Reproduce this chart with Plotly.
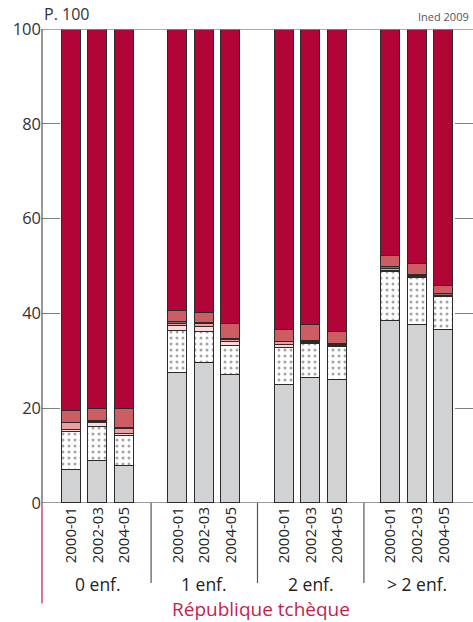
import plotly.graph_objects as go

groups = ["0 enf.", "1 enf.", "2 enf.", "> 2 enf."]
periods = ["2000-01", "2002-03", "2004-05"]

# layer values per bar (12 bars: group-major order)
gris = [7.0, 8.9, 7.8, 27.4, 29.5, 27.0, 24.9, 26.3, 25.9, 38.4, 37.6, 36.6]
pointille = [7.9, 7.2, 6.4, 8.9, 6.5, 6.2, 7.9, 7.2, 7.1, 10.3, 9.9, 6.8]
rose_pale = [0.5, 0.7, 0.4, 1.0, 1.2, 0.8, 0.5, 0.2, 0.2, 0.3, 0.2, 0.2]
saumon = [1.5, 0.3, 1.1, 0.5, 0.5, 0.4, 0.6, 0.2, 0.1, 0.4, 0.2, 0.1]
gris_fonce = [0.0, 0.3, 0.2, 0.4, 0.3, 0.3, 0.1, 0.3, 0.2, 0.3, 0.3, 0.3]
rouge = [2.5, 2.4, 4.0, 2.4, 2.0, 3.0, 2.5, 3.4, 2.6, 2.5, 2.2, 1.8]
cramoisi = [80.6, 80.2, 80.0, 59.4, 60.0, 62.3, 63.5, 62.4, 63.9, 47.8, 49.6, 54.2]

yticks = [0, 20, 40, 60, 80, 100]

xpos = [4 * g + b for g in range(len(groups)) for b in range(len(periods))]
xlabels = [p for g in groups for p in periods]

FONT = "Open Sans"
CRIMSON = "#b10538"
EDGE = dict(color="#2b2b2b", width=1)

layers = [
    (gris, dict(color="#d1d2d4", line=EDGE)),
    (pointille, dict(color="white", line=EDGE,
                     pattern=dict(shape=".", fgcolor="#4a4a4a", bgcolor="white",
                                  size=6, solidity=0.2))),
    (rose_pale, dict(color="#fbd9d6", line=EDGE)),
    (saumon, dict(color="#e9a09f", line=EDGE)),
    (gris_fonce, dict(color="#707070", line=EDGE)),
    (rouge, dict(color="#cc5e63", line=EDGE)),
    (cramoisi, dict(color=CRIMSON, line=EDGE)),
]

fig = go.Figure()
for vals, mk in layers:
    fig.add_trace(go.Bar(x=xpos, y=vals, width=0.71, marker=mk,
                         showlegend=False, hoverinfo="skip"))

shapes = []
shapes.append(dict(type="line", xref="paper", yref="y", x0=0, x1=1, y0=100, y1=100,
                   line=dict(color="#8c8c8c", width=1.5), layer="above"))
shapes.append(dict(type="line", xref="paper", yref="y", x0=0, x1=0, y0=0, y1=100,
                   line=dict(color="#333333", width=1), layer="above"))
shapes.append(dict(type="line", xref="paper", yref="y", x0=0, x1=1, y0=0, y1=0,
                   line=dict(color="#333333", width=1), layer="above"))
shapes.append(dict(type="line", xref="paper", yref="paper", x0=0, x1=0, y0=0, y1=-0.212,
                   line=dict(color="#c41e4e", width=1.2)))
for g in range(1, len(groups)):
    shapes.append(dict(type="line", xref="x", yref="paper", x0=4 * g - 1, x1=4 * g - 1,
                       y0=0, y1=-0.169, line=dict(color="#555555", width=1.2)))

annotations = []
for g, name in enumerate(groups):
    annotations.append(dict(x=4 * g + 1, y=-0.170, xref="x", yref="paper", text=name,
                            showarrow=False, yanchor="middle", borderpad=0,
                            font=dict(family=FONT, size=17.5, color="#222222")))
annotations.append(dict(x=7.15, y=-0.224, xref="x", yref="paper", text="République tchèque",
                        showarrow=False, yanchor="middle", borderpad=0,
                        font=dict(family=FONT, size=19, color="#c41e4e")))
annotations.append(dict(x=0.0, y=1.032, xref="paper", yref="paper", text="P. 100",
                        showarrow=False, xanchor="left", yanchor="middle",
                        font=dict(family=FONT, size=16, color="#333333")))
annotations.append(dict(x=0.995, y=1.026, xref="paper", yref="paper", text="Ined 2009",
                        showarrow=False, xanchor="right", yanchor="middle",
                        font=dict(family=FONT, size=11, color="#555555")))

fig.update_layout(
    width=473, height=622,
    margin=dict(l=42, r=0, t=29, b=119),
    plot_bgcolor="white", paper_bgcolor="white",
    barmode="stack", bargap=0,
    shapes=shapes, annotations=annotations,
    xaxis=dict(range=[-1.1, 15.1], tickmode="array", tickvals=xpos, ticktext=xlabels,
               tickangle=-90, ticks="", showline=False, showgrid=False, zeroline=False,
               tickfont=dict(family=FONT, size=15, color="#222222")),
    yaxis=dict(range=[0, 100], tickmode="array", tickvals=yticks,
               ticks="inside", ticklen=18, tickcolor="#808080", tickwidth=1.2,
               mirror="ticks", showline=False, showgrid=False, zeroline=False,
               tickfont=dict(family=FONT, size=16.5, color="#333333")),
)

fig.write_html("out.html", config={"displayModeBar": False},
               post_script="document.body.style.margin='0';document.body.style.padding='0';")
